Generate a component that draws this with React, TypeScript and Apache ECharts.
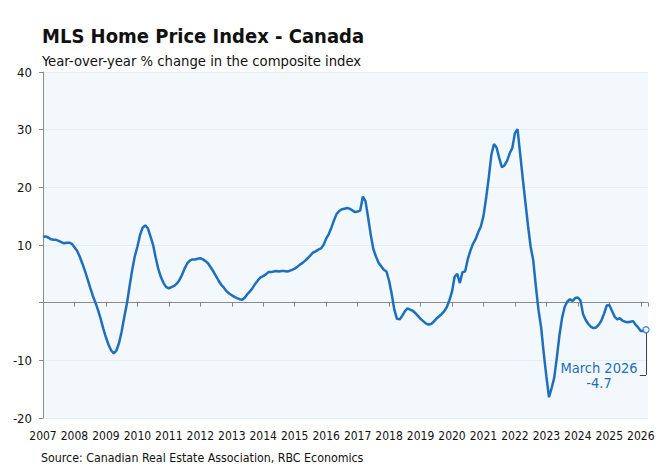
import React, { useEffect, useRef } from "react";
import * as echarts from "echarts";

const startYear = 2007;
const y2007 = [11.4, 11.5, 11.3, 11.0, 10.9, 10.9, 10.7, 10.5, 10.3, 10.4, 10.4, 10.2];
const y2008 = [9.6, 9.0, 8.0, 6.8, 5.5, 4.1, 2.6, 1.2, 0.0, -1.3, -2.8, -4.5];
const y2009 = [-6.0, -7.3, -8.3, -8.8, -8.3, -7.0, -5.0, -2.5, -0.2, 2.8, 5.6, 8.0];
const y2010 = [9.7, 11.7, 13.0, 13.4, 12.9, 11.5, 10.0, 7.8, 5.8, 4.4, 3.4, 2.7];
const y2011 = [2.5, 2.7, 2.9, 3.3, 3.9, 4.8, 5.9, 6.8, 7.3, 7.5, 7.5, 7.6];
const y2012 = [7.7, 7.5, 7.2, 6.8, 6.1, 5.4, 4.6, 3.8, 3.1, 2.6, 2.0, 1.6];
const y2013 = [1.3, 1.0, 0.8, 0.6, 0.5, 0.9, 1.5, 2.0, 2.6, 3.3, 3.9, 4.4];
const y2014 = [4.6, 4.9, 5.3, 5.3, 5.4, 5.5, 5.4, 5.5, 5.5, 5.4, 5.5, 5.7];
const y2015 = [5.9, 6.2, 6.6, 6.9, 7.3, 7.7, 8.2, 8.7, 8.9, 9.2, 9.4, 10.0];
const y2016 = [11.1, 11.9, 13.0, 14.3, 15.4, 15.9, 16.2, 16.3, 16.4, 16.3, 16.0, 15.7];
const y2017 = [15.8, 16.0, 18.4, 17.6, 14.8, 11.8, 9.3, 8.0, 6.9, 6.3, 5.7, 5.4];
const y2018 = [3.8, 1.5, -1.2, -2.8, -2.9, -2.3, -1.5, -1.0, -1.2, -1.4, -1.8, -2.3];
const y2019 = [-2.8, -3.2, -3.6, -3.8, -3.7, -3.3, -2.8, -2.4, -2.0, -1.5, -0.8, 0.4];
const y2020 = [1.9, 4.5, 5.0, 3.4, 5.3, 5.4, 7.5, 9.0, 10.2, 11.0, 12.2, 13.2];
const y2021 = [15.0, 18.1, 21.6, 25.6, 27.5, 26.9, 25.1, 23.5, 23.8, 24.6, 25.9, 26.8];
const y2022 = [29.4, 30.1, 25.8, 21.5, 17.4, 13.3, 9.7, 7.3, 2.8, -1.3, -4.3, -8.8];
const y2023 = [-12.8, -16.4, -14.8, -13.0, -9.5, -5.6, -2.6, -0.7, 0.2, 0.6, 0.3, 0.8];
const y2024 = [0.9, 0.4, -2.0, -3.0, -3.7, -4.2, -4.4, -4.3, -3.8, -3.1, -1.9, -0.5];
const y2025 = [-0.4, -1.4, -2.4, -2.9, -2.7, -3.1, -3.3, -3.4, -3.3, -3.2, -3.8, -4.3];
const y2026 = [-4.9, -4.9, -4.7];

const monthlyValues = [
  ...y2007, ...y2008, ...y2009, ...y2010, ...y2011, ...y2012, ...y2013,
  ...y2014, ...y2015, ...y2016, ...y2017, ...y2018, ...y2019, ...y2020,
  ...y2021, ...y2022, ...y2023, ...y2024, ...y2025, ...y2026,
];

const lastLabel = "March 2026";
const titleText = "MLS Home Price Index - Canada";
const subtitleText = "Year-over-year % change in the composite index";
const sourceText = "Source: Canadian Real Estate Association, RBC Economics";

const FONT = "'DejaVu Sans Condensed', 'Liberation Sans Narrow', 'DejaVu Sans', sans-serif";
const BLUE = "#1e6fbd";

export default function App() {
  const ref = useRef<HTMLDivElement>(null);
  useEffect(() => {
    const chart = echarts.init(ref.current!, null, { renderer: "svg" });
    const points = monthlyValues.map((v, i) => [startYear + i / 12, v]);
    const last = points[points.length - 1];
    const bracketY = -12.5;
    chart.setOption({
      animation: false,
      backgroundColor: "#ffffff",
      textStyle: { fontFamily: FONT },
      grid: {
        left: 43,
        right: 17,
        top: 72,
        bottom: 48,
        show: true,
        backgroundColor: "#f2f8fc",
        borderWidth: 0,
      },
      xAxis: [
        {
          type: "value",
          min: 2007,
          max: 2026.23,
          interval: 1,
          axisLine: { show: false, onZero: false },
          axisTick: { show: false },
          splitLine: { show: false },
          axisLabel: {
            color: "#111",
            fontSize: 12,
            margin: 12,
            formatter: (v: number) => String(Math.round(v)),
          },
        },
        {
          type: "value",
          position: "bottom",
          min: 2007,
          max: 2026.23,
          interval: 1,
          axisLine: { show: true, onZero: true, lineStyle: { color: "#8a8a8a", width: 1 } },
          axisTick: { show: true, length: 4, lineStyle: { color: "#8a8a8a" } },
          axisLabel: { show: false },
          splitLine: { show: false },
        },
      ],
      yAxis: {
        type: "value",
        min: -20,
        max: 40,
        interval: 10,
        axisLine: { show: true, onZero: false, lineStyle: { color: "#8a8a8a", width: 1 } },
        axisTick: { show: true, length: 4, lineStyle: { color: "#8a8a8a" } },
        splitLine: { show: true, lineStyle: { color: "#e4edf3", width: 1 } },
        axisLabel: {
          color: "#111",
          fontSize: 13,
          margin: 11,
          formatter: (v: number) => (v === 0 ? "" : String(v)),
        },
      },
      series: [
        {
          type: "line",
          xAxisIndex: 0,
          data: points,
          showSymbol: false,
          smooth: false,
          lineStyle: { color: BLUE, width: 2.5 },
          z: 3,
        },
        {
          type: "scatter",
          xAxisIndex: 0,
          data: [last],
          symbol: "circle",
          symbolSize: 6,
          itemStyle: { color: "#ffffff", borderColor: BLUE, borderWidth: 1.3 },
          z: 5,
          markLine: {
            silent: true,
            symbol: "none",
            animation: false,
            label: { show: false },
            lineStyle: { color: "#444", width: 1, type: "solid" },
            data: [
              [{ coord: [last[0], last[1] - 0.5] }, { coord: [last[0], bracketY] }],
              [{ coord: [last[0], bracketY] }, { coord: [last[0] - 0.2, bracketY] }],
            ],
          },
        },
      ],
      graphic: [
        {
          type: "text",
          left: 42,
          top: 26,
          style: { text: titleText, fill: "#111", font: `bold 20px ${FONT}` },
        },
        {
          type: "text",
          left: 42,
          top: 52.5,
          style: { text: subtitleText, fill: "#111", font: `14.7px ${FONT}` },
        },
        {
          type: "text",
          x: 599,
          y: 360,
          style: {
            text: `${lastLabel}\n${last[1]}`,
            fill: BLUE,
            font: `14.5px ${FONT}`,
            align: "center",
            verticalAlign: "top",
            lineHeight: 15,
          },
        },
        {
          type: "text",
          left: 41,
          top: 451.5,
          style: { text: sourceText, fill: "#111", font: `12.3px ${FONT}` },
        },
      ],
    });
    return () => chart.dispose();
  }, []);
  return <div ref={ref} style={{ position: "fixed", left: 0, top: 0, width: 665, height: 466 }} />;
}
